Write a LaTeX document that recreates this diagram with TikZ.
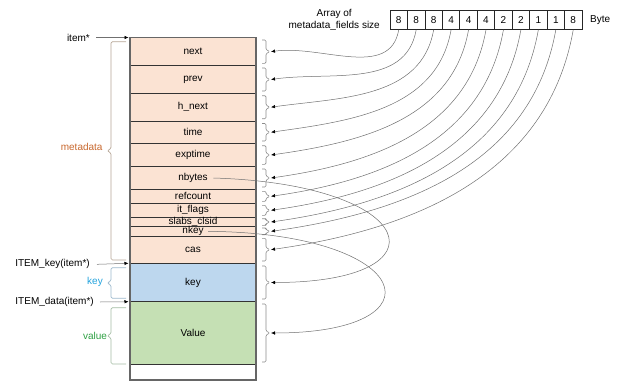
\documentclass[tikz,border=0pt]{standalone}
\usepackage{fontspec}
\setmainfont{Liberation Sans}
\usetikzlibrary{arrows.meta}
\definecolor{peach}{HTML}{FBE3D3}
\definecolor{keyfill}{HTML}{BDD7EE}
\definecolor{valfill}{HTML}{C5E0B4}
\definecolor{metatxt}{HTML}{C8682E}
\definecolor{keytxt}{HTML}{23A3DD}
\definecolor{valtxt}{HTML}{2EA043}
\definecolor{metabr}{HTML}{B5A595}
\definecolor{keybr}{HTML}{9CB8CC}
\definecolor{valbr}{HTML}{A3BCA3}
\definecolor{linegray}{HTML}{707070}
\newcommand\fieldrow[5]{\node[#1, minimum height=#4pt, label={[name=l#2]center:#5}] (#2) at (193,#3) {};}
\newcommand\rbr[3]{%
  \draw[rbrace] (262,#2) -- (266,#2) -- (266,{(#2+#3)/2-min(2,(#3-#2)/4)}) -- (270,{(#2+#3)/2}) -- (266,{(#2+#3)/2+min(2,(#3-#2)/4)}) -- (266,#3) -- (262,#3);
  \coordinate (b-#1) at (271,{(#2+#3)/2});}
\newcommand\lbr[4]{%
  \draw[lbrace, draw=#4] (126,#2) -- (111,#2) -- (111,{(#2+#3)/2-2}) -- (107,{(#2+#3)/2}) -- (111,{(#2+#3)/2+2}) -- (111,#3) -- (126,#3);
  \coordinate (lb-#1) at (107,{(#2+#3)/2});}
\begin{document}
\begin{tikzpicture}[x=1pt,y=-1pt,
  every node/.style={font=\fontsize{10}{12}\selectfont},
  rowbox/.style={draw=black!80, line width=0.7pt, minimum width=126pt, inner sep=0pt, outer sep=0pt},
  meta/.style={rowbox, fill=peach},
  keyrow/.style={rowbox, fill=keyfill},
  valrow/.style={rowbox, fill=valfill},
  emptyrow/.style={rowbox, fill=white},
  cell/.style={draw=black!85, line width=0.7pt, minimum width=17.45pt, minimum height=19pt, inner sep=0pt},
  conn/.style={draw=linegray, line width=0.5pt, -{Latex[length=4pt,width=3.5pt,black]}},
  rbrace/.style={draw=gray!90, line width=0.6pt, rounded corners=1.2pt},
  lbrace/.style={line width=0.7pt, rounded corners=1.5pt},
  lefttxt/.style={anchor=east, inner sep=0pt}
]
\useasboundingbox (0,0) rectangle (621,383);

% memory column
\fieldrow{meta}{next}{51.6}{28.2}{next}
\fieldrow{meta}{prev}{79.5}{27.6}{prev}
\fieldrow{meta}{hnext}{107.15}{27.7}{h\_next}
\fieldrow{meta}{time}{132.15}{22.3}{time}
\fieldrow{meta}{exptime}{155}{23.4}{exptime}
\fieldrow{meta}{nbytes}{178}{22.6}{nbytes}
\fieldrow{meta}{refcount}{196.3}{14}{refcount}
\fieldrow{meta}{itflags}{210.3}{14}{it\_flags}
\fieldrow{meta}{slabs}{222}{9.4}{slabs\_clsid}
\fieldrow{meta}{nkey}{231.35}{9.3}{nkey}
\fieldrow{meta}{cas}{249.65}{27.3}{cas}
\fieldrow{keyrow}{key}{282.5}{38.4}{key}
\fieldrow{valrow}{value}{333}{62.6}{Value}
\fieldrow{emptyrow}{empty}{372.15}{15.7}{}
\draw[gray!80!black, line width=1.2pt] (next.north west) rectangle (empty.south east);

% right braces
\rbr{next}{40}{63.3}
\rbr{prev}{68}{91}
\rbr{hnext}{95.7}{118.7}
\rbr{time}{123.5}{141}
\rbr{exptime}{145.7}{164.3}
\rbr{nbytes}{169}{187}
\rbr{refcount}{191.3}{201.3}
\rbr{itflags}{205.3}{215.3}
\rbr{slabs}{218.7}{225.3}
\rbr{nkey}{228}{234.7}
\rbr{cas}{238.3}{261}
\rbr{key}{266}{299}
\rbr{value}{304}{362}

% array of sizes
\foreach \v [count=\i] in {8,8,8,4,4,4,2,2,1,1,8}
  \node[cell] (c\i) at ({390+17.45*(\i-0.5)},20) {\v};
\node[align=center, anchor=east, inner sep=0pt, font=\fontsize{10}{12.5}\selectfont] (arr) at (380,20) {Array of\\metadata\_fields size};
\node[anchor=west, inner sep=0pt] (byte) at (590,20) {Byte};

\foreach \i/\t in {1/next,2/prev,3/hnext,4/time,5/exptime,6/nbytes,7/refcount,8/itflags,9/slabs,10/nkey,11/cas}
  \draw[conn] (c\i.south) to[out=-100,in=8] (b-\t);

% crossing connectors
\draw[conn] ([xshift=2pt]lnbytes.east) .. controls (420,184) and (450,282.5) .. (b-key);
\draw[conn] ([xshift=1pt]lnkey.east) .. controls (415,233) and (445,333) .. (b-value);

% left side
\node[lefttxt] (item) at (90,37.5) {item*};
\node[lefttxt] (ikey) at (90,264.3) {ITEM\_key(item*)};
\node[lefttxt] (idata) at (94,302) {ITEM\_data(item*)};
\draw[conn] ([xshift=6pt]item.east) -- ([xshift=-1.5pt]next.north west);
\draw[conn] ([xshift=7pt]ikey.east) -- ([xshift=-1.5pt]key.north west);
\draw[conn] ([xshift=6pt]idata.east) -- ([xshift=-1.5pt]value.north west);

\lbr{meta}{41.7}{260}{metabr}
\lbr{key}{267.7}{298.3}{keybr}
\lbr{value}{307.7}{364}{valbr}
\node[text=metatxt] (metalbl) at (81.7,146.7) {metadata};
\node[text=keytxt] (keylbl) at (95,281.7) {key};
\node[text=valtxt] (vallbl) at (95,336) {value};
\end{tikzpicture}
\end{document}
